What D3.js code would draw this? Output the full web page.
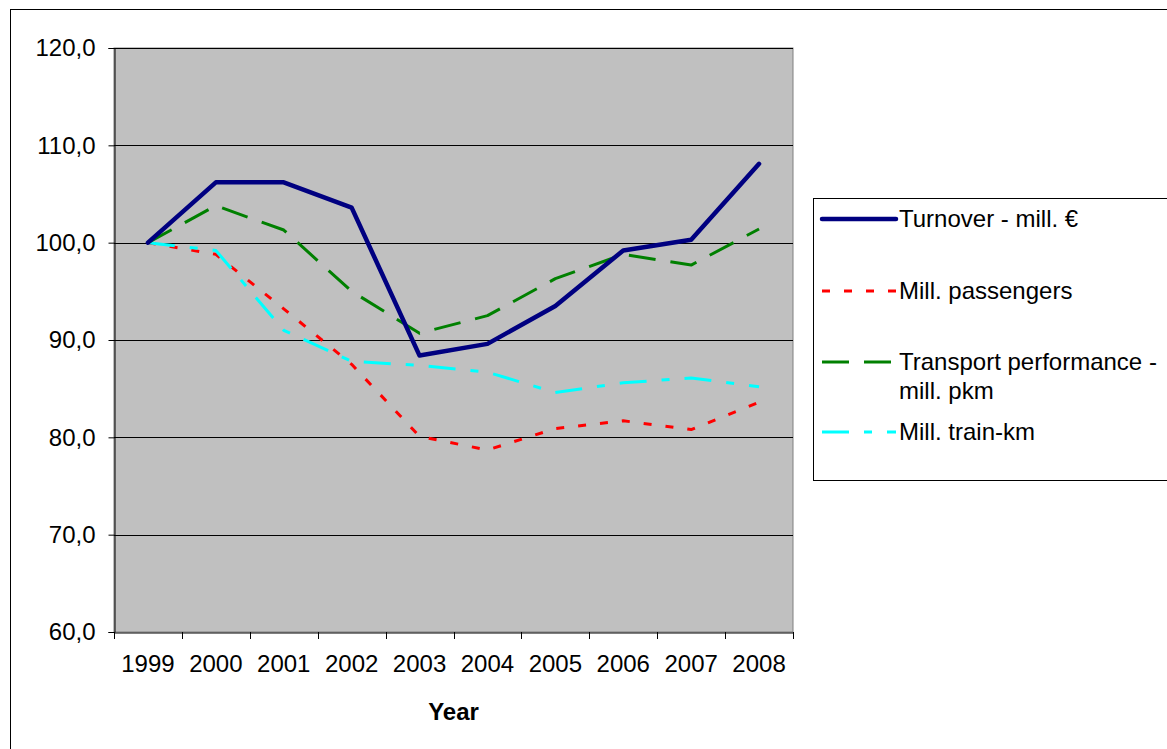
<!DOCTYPE html>
<html><head><meta charset="utf-8">
<script src="https://cdn.jsdelivr.net/npm/d3@7"></script>
<style>body{margin:0;background:#fff}svg{display:block}text{font-family:"Liberation Sans",Arial,sans-serif}</style>
</head><body>
<svg id="c" width="1167" height="749"></svg>
<script>
const years = ["1999","2000","2001","2002","2003","2004","2005","2006","2007","2008"];
const turnover = [100, 106.2, 106.2, 103.6, 88.4, 89.6, 93.5, 99.2, 100.3, 108.1];
const passengers = [100, 98.8, 93.2, 87.5, 80.1, 78.7, 80.9, 81.7, 80.8, 83.6];
const transport = [100, 103.8, 101.3, 95.0, 90.7, 92.5, 96.3, 98.8, 97.7, 101.4];
const trainkm = [100, 99.2, 91.0, 87.8, 87.4, 86.7, 84.6, 85.6, 86.1, 85.2];
const yTicks = [60, 70, 80, 90, 100, 110, 120];
const seriesNames = ["Turnover - mill. €", "Mill. passengers", "Transport performance -\nmill. pkm", "Mill. train-km"];

const svg = d3.select("#c");
const L = 114, R = 793, T = 48, B = 632;
const x = d3.scaleBand().domain(years).range([L, R]);
const y = d3.scaleLinear().domain([60, 120]).range([B, T]);
const fmt = v => d3.format(".1f")(v).replace(".", ",");

// outer border
svg.append("rect").attr("x", 10.5).attr("y", 9.5).attr("width", 1170).attr("height", 760)
  .attr("fill", "#fff").attr("stroke", "#000").attr("stroke-width", 1);

// plot area
svg.append("rect").attr("x", L).attr("y", T).attr("width", R - L).attr("height", B - T)
  .attr("fill", "#C0C0C0").attr("stroke", "#808080").attr("stroke-width", 1);

// gridlines
svg.append("g").selectAll("line").data(yTicks.filter(v => v > 60)).join("line")
  .attr("x1", L).attr("x2", R).attr("y1", d => Math.round(y(d)) + 0.5).attr("y2", d => Math.round(y(d)) + 0.5)
  .attr("stroke", "#000").attr("stroke-width", 1);

// y axis
const yAxis = d3.axisLeft(y).tickValues(yTicks).tickSize(6).tickPadding(13).tickFormat(fmt);
const gy = svg.append("g").attr("transform", `translate(${L + 0.5},0)`).call(yAxis);
gy.select(".domain").attr("stroke", "#000");
gy.selectAll(".tick line").attr("stroke", "#000");
gy.selectAll("text").attr("font-size", 24).attr("fill", "#000").attr("font-family", '"Liberation Sans",Arial,sans-serif');

// x axis
const xAxis = d3.axisBottom(x).tickSize(0).tickPadding(22);
const gx = svg.append("g").attr("transform", `translate(0,${B + 0.5})`).call(xAxis);
gx.select(".domain").attr("stroke", "#000");
gx.selectAll("text").attr("font-size", 24).attr("fill", "#000").attr("font-family", '"Liberation Sans",Arial,sans-serif');
// tick marks between categories
const bounds = years.map(d => x(d)).concat([R]);
svg.append("g").selectAll("line").data(bounds).join("line")
  .attr("x1", d => Math.round(d) + 0.5).attr("x2", d => Math.round(d) + 0.5)
  .attr("y1", B).attr("y2", B + 7).attr("stroke", "#000");

svg.append("text").attr("x", (L + R) / 2).attr("y", 720).attr("text-anchor", "middle")
  .attr("font-size", 24).attr("font-weight", "bold").text("Year");

// lines
const cx = d => x(d) + x.bandwidth() / 2;
const styles = [
  {data: turnover, color: "#000080", w: 4.5, dash: null},
  {data: passengers, color: "#FF0000", w: 3, dash: "8,14"},
  {data: transport, color: "#008000", w: 3, dash: "27,15"},
  {data: trainkm, color: "#00FFFF", w: 3, dash: "27,15,8,15"}
];
const line = d3.line().x((d, i) => cx(years[i])).y(d => y(d));
[1, 3, 2, 0].forEach(k => {
  const s = styles[k];
  svg.append("path").attr("d", line(s.data)).attr("fill", "none")
    .attr("stroke", s.color).attr("stroke-width", s.w)
    .attr("stroke-linejoin", "round").attr("stroke-linecap", k === 0 ? "round" : "butt")
    .attr("stroke-dasharray", s.dash);
});

// legend
svg.append("rect").attr("x", 813.5).attr("y", 198.5).attr("width", 360).attr("height", 282)
  .attr("fill", "#fff").attr("stroke", "#000");
const legY = [219, 291, 362, 432];
styles.forEach((s, i) => {
  svg.append("line").attr("x1", 822).attr("x2", 896).attr("y1", legY[i]).attr("y2", legY[i])
    .attr("stroke", s.color).attr("stroke-width", s.w).attr("stroke-dasharray", s.dash)
    .attr("stroke-linecap", i === 0 ? "round" : "butt");
  const lines = seriesNames[i].split("\n");
  lines.forEach((t, j) => {
    svg.append("text").attr("x", 899).attr("y", legY[i] + 8 + j * 29).attr("font-size", 24)
      .attr("fill", "#000").text(t);
  });
});
</script>
</body></html>
